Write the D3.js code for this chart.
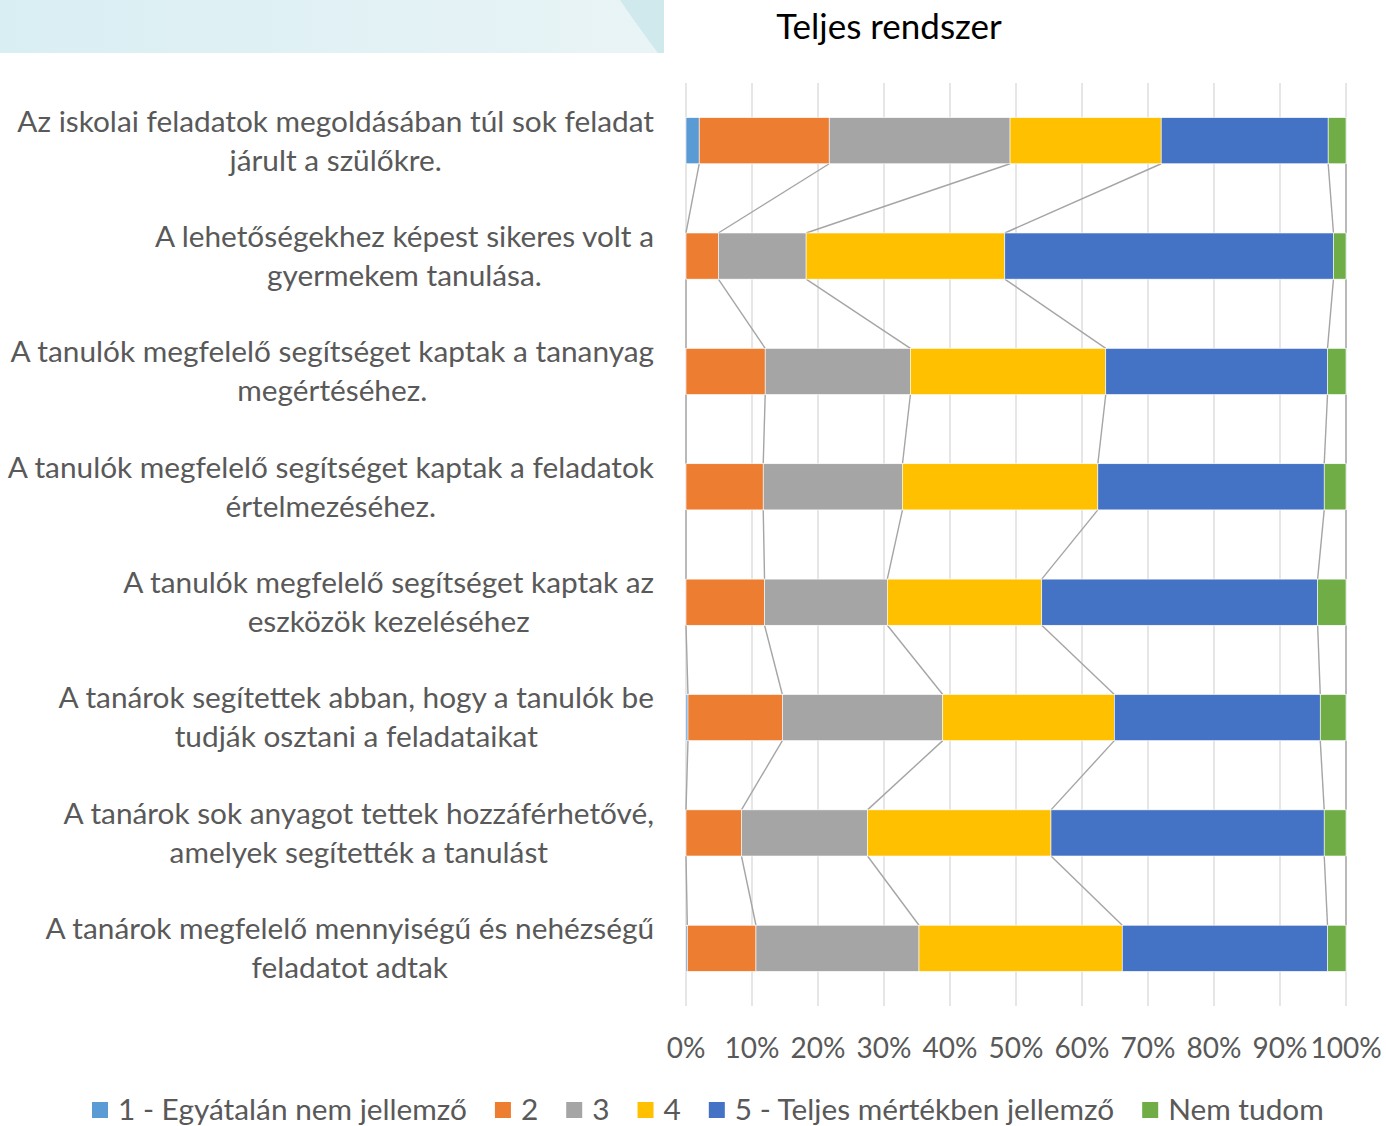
<!DOCTYPE html>
<html>
<head>
<meta charset="utf-8">
<script src="https://cdn.jsdelivr.net/npm/d3@7"></script>
<style>
  body { margin: 0; background: #fff; }
  svg { display: block; }
</style>
</head>
<body>
<div id="chart"></div>
<script>
// kérdések (két sorban)
const categories = [
  ['Az iskolai feladatok megoldásában túl sok feladat', 'járult a szülőkre.'],
  ['A lehetőségekhez képest sikeres volt a', 'gyermekem tanulása.'],
  ['A tanulók megfelelő segítséget kaptak a tananyag', 'megértéséhez.'],
  ['A tanulók megfelelő segítséget kaptak a feladatok', 'értelmezéséhez.'],
  ['A tanulók megfelelő segítséget kaptak az', 'eszközök kezeléséhez'],
  ['A tanárok segítettek abban, hogy a tanulók be', 'tudják osztani a feladataikat'],
  ['A tanárok sok anyagot tettek hozzáférhetővé,', 'amelyek segítették a tanulást'],
  ['A tanárok megfelelő mennyiségű és nehézségű', 'feladatot adtak']
];
const seriesNames = ['1 - Egyátalán nem jellemző', '2', '3', '4', '5 - Teljes mértékben jellemző', 'Nem tudom'];
const seriesColors = ['#5B9BD5', '#ED7D31', '#A5A5A5', '#FFC000', '#4472C4', '#70AD47'];

// százalékok kérdésenként
const s1 = [2.0, 0, 0, 0, 0, 0.3, 0, 0.2];
const s2 = [19.7, 4.9, 12.0, 11.7, 11.9, 14.3, 8.4, 10.4];
const s3 = [27.4, 13.3, 22.0, 21.1, 18.6, 24.3, 19.1, 24.7];
const s4 = [22.9, 30.1, 29.6, 29.6, 23.4, 26.0, 27.8, 30.8];
const s5 = [25.3, 49.8, 33.6, 34.3, 41.8, 31.2, 41.4, 31.1];
const sNT = [2.7, 1.9, 2.8, 3.3, 4.3, 3.9, 3.3, 2.8];
const seriesValues = [s1, s2, s3, s4, s5, sNT];

const tickValues = [0, 10, 20, 30, 40, 50, 60, 70, 80, 90, 100];
const title = 'Teljes rendszer';

const width = 1386, height = 1126;
const font = 'Lato, "Open Sans", sans-serif';
const fontSize = 29.8;
const plot = { left: 686, right: 1346, top: 83, bottom: 1006 };

const svg = d3.select('#chart').append('svg')
  .attr('width', width)
  .attr('height', height)
  .attr('viewBox', `0 0 ${width} ${height}`);

// díszítő sáv bal fent
const defs = svg.append('defs');
const grad = defs.append('linearGradient').attr('id', 'bandGrad')
  .attr('x1', '0').attr('x2', '1').attr('y1', '0').attr('y2', '0');
grad.append('stop').attr('offset', '0').attr('stop-color', '#d9eef3');
grad.append('stop').attr('offset', '1').attr('stop-color', '#e9f4f6');
svg.append('rect').attr('x', 0).attr('y', 0).attr('width', 664).attr('height', 53)
  .attr('fill', 'url(#bandGrad)');
svg.append('path')
  .attr('d', 'M620,0 Q642,32 658,53 L664,53 L664,0 Z')
  .attr('fill', '#cfe9ed');

// skálák
const x = d3.scaleLinear().domain([0, 100]).range([plot.left, plot.right]);
const y = d3.scaleBand().domain(d3.range(categories.length))
  .range([plot.top, plot.bottom]).paddingInner(0.6).paddingOuter(0.3);

// halmozott adatok
const rows = categories.map((c, i) => {
  const r = { idx: i };
  seriesValues.forEach((s, k) => { r['s' + k] = s[i]; });
  return r;
});
const stack = d3.stack().keys(seriesValues.map((s, k) => 's' + k));
const stacked = stack(rows);

// rácsvonalak
svg.append('g')
  .selectAll('line')
  .data(tickValues)
  .join('line')
  .attr('x1', d => x(d)).attr('x2', d => x(d))
  .attr('y1', plot.top).attr('y2', plot.bottom)
  .attr('stroke', '#d9d9d9')
  .attr('stroke-width', 1.3);

// sorozatvonalak
const seriesLines = [];
stacked.forEach(layer => {
  for (let j = 0; j < layer.length - 1; j++) {
    seriesLines.push({
      x1: x(layer[j][1]), y1: y(j) + y.bandwidth(),
      x2: x(layer[j + 1][1]), y2: y(j + 1)
    });
  }
});
svg.append('g')
  .selectAll('line')
  .data(seriesLines)
  .join('line')
  .attr('x1', d => d.x1).attr('y1', d => d.y1)
  .attr('x2', d => d.x2).attr('y2', d => d.y2)
  .attr('stroke', '#a5a5a5')
  .attr('stroke-width', 1.4);

// oszlopok
svg.append('g')
  .selectAll('g')
  .data(stacked)
  .join('g')
  .attr('fill', (d, k) => seriesColors[k])
  .selectAll('rect')
  .data(d => d)
  .join('rect')
  .attr('x', d => x(d[0]))
  .attr('y', (d, j) => y(j))
  .attr('width', d => Math.max(0, x(d[1]) - x(d[0])))
  .attr('height', y.bandwidth())
  .attr('stroke', '#ffffff')
  .attr('stroke-width', 0.6);

// x tengely feliratok
svg.append('g')
  .selectAll('text')
  .data(tickValues)
  .join('text')
  .attr('x', d => x(d))
  .attr('y', 1048)
  .attr('dy', '0.35em')
  .attr('text-anchor', 'middle')
  .attr('font-family', font)
  .attr('font-size', 28)
  .attr('fill', '#595959')
  .text(d => d + '%');

// cím
svg.append('text')
  .attr('x', 889)
  .attr('y', 27)
  .attr('dy', '0.35em')
  .attr('text-anchor', 'middle')
  .attr('font-family', font)
  .attr('font-size', 35)
  .attr('fill', '#000')
  .text(title);

// kategória feliratok: jobbra zárt blokk, soronként középre
const labelRight = 654;
const labelGroups = svg.append('g')
  .selectAll('g')
  .data(categories)
  .join('g');
labelGroups.each(function (lines, i) {
  const g = d3.select(this);
  const cy = y(i) + y.bandwidth() / 2;
  const texts = g.selectAll('text')
    .data(lines)
    .join('text')
    .attr('y', (d, k) => cy + (k === 0 ? -19.5 : 19.5))
    .attr('dy', '0.35em')
    .attr('text-anchor', 'middle')
    .attr('font-family', font)
    .attr('font-size', fontSize)
    .attr('fill', '#595959')
    .text(d => d);
  const maxW = d3.max(texts.nodes(), n => n.getComputedTextLength());
  texts.attr('x', labelRight - maxW / 2);
});

// jelmagyarázat
const legend = svg.append('g');
let lx = 92;
seriesNames.forEach((name, k) => {
  legend.append('rect')
    .attr('x', lx).attr('y', 1102)
    .attr('width', 16).attr('height', 16)
    .attr('fill', seriesColors[k]);
  const t = legend.append('text')
    .attr('x', lx + 26).attr('y', 1110)
    .attr('dy', '0.35em')
    .attr('font-family', font)
    .attr('font-size', fontSize)
    .attr('fill', '#595959')
    .text(name);
  lx += 26 + t.node().getComputedTextLength() + 28;
});
</script>
</body>
</html>
